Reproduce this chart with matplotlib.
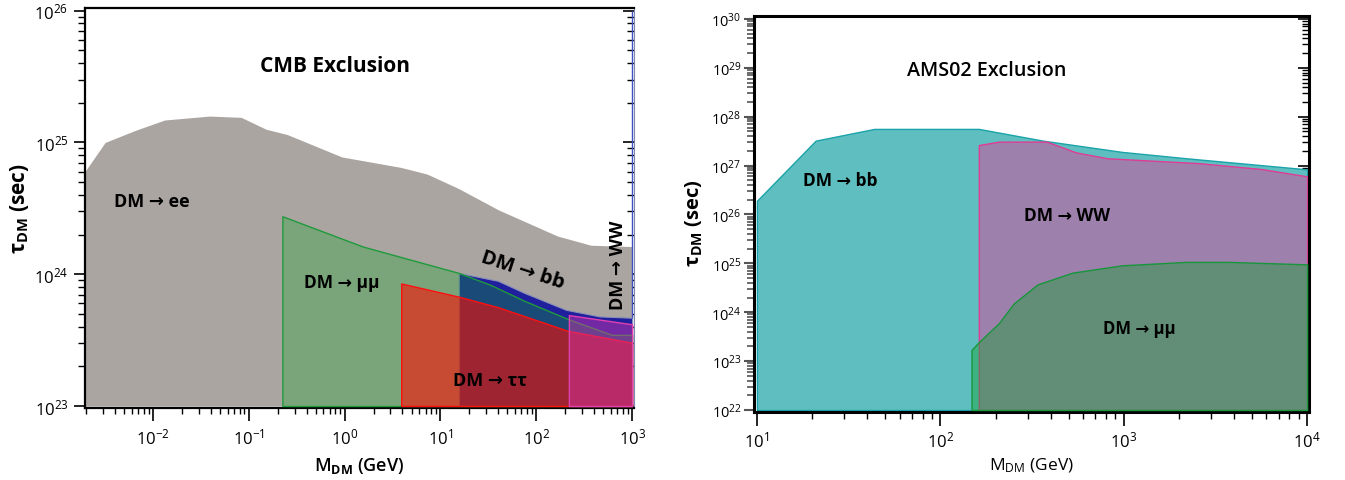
import matplotlib
matplotlib.use("Agg")
import matplotlib.pyplot as plt
import matplotlib.ticker as mticker
import numpy as np

plt.rcParams['font.family'] = ['Open Sans', 'DejaVu Sans']
plt.rcParams['mathtext.fontset'] = 'custom'
plt.rcParams['mathtext.rm'] = 'Open Sans'
plt.rcParams['mathtext.bf'] = 'Open Sans:bold'
plt.rcParams['mathtext.it'] = 'Open Sans:italic'

# ---- CMB panel data (log10 of mass in GeV, log10 of lifetime in s) ----
ee_logm = [-2.71, -2.50, -2.19, -1.88, -1.41, -1.08, -0.82, -0.60, -0.03,
           0.59, 0.86, 1.19, 1.60, 2.22, 2.57, 3.00]
ee_logt = [24.78, 25.00, 25.09, 25.17, 25.20, 25.19, 25.10, 25.06, 24.89,
           24.81, 24.76, 24.65, 24.49, 24.29, 24.22, 24.21]

mumu_logm = [-0.65, 0.19, 1.19, 1.52, 1.87, 2.33, 2.79, 3.00]
mumu_logt = [24.44, 24.21, 24.01, 23.92, 23.80, 23.66, 23.54, 23.54]

bb_logm = [1.19, 1.60, 1.87, 2.31, 2.66, 3.00]
bb_logt = [24.01, 23.95, 23.86, 23.73, 23.68, 23.67]

tautau_logm = [0.59, 1.19, 1.60, 2.33, 3.00]
tautau_logt = [23.93, 23.83, 23.75, 23.57, 23.48]

ww_logm = [2.34, 3.00]
ww_logt = [23.69, 23.62]

# ---- AMS02 panel data ----
ams_bb_logm = [1.00, 1.32, 1.64, 2.21, 2.56, 2.99, 3.34, 3.98, 4.00]
ams_bb_logt = [26.28, 27.51, 27.75, 27.75, 27.51, 27.28, 27.15, 26.93, 26.92]

ams_ww_logm = [2.21, 2.32, 2.58, 2.74, 2.91, 3.41, 3.75, 4.00]
ams_ww_logt = [27.42, 27.49, 27.49, 27.27, 27.15, 27.05, 26.93, 26.78]

ams_mumu_logm = [2.17, 2.21, 2.32, 2.40, 2.53, 2.72, 2.99, 3.34, 3.57, 4.00]
ams_mumu_logt = [23.23, 23.39, 23.78, 24.18, 24.57, 24.81, 24.96, 25.03, 25.03, 24.98]


def pw(a):
    return 10.0 ** np.asarray(a)


fig = plt.figure(figsize=(13.45, 4.81), dpi=100)
ax1 = fig.add_axes([0.0632, 0.1497, 0.4082, 0.8316])
ax2 = fig.add_axes([0.5606, 0.1414, 0.4126, 0.8233])

# ---------------- left: CMB ----------------
floor1 = 1e23
ax1.fill_between(pw(ee_logm), floor1, pw(ee_logt), color='#aba5a2', lw=0, zorder=1)
ax1.fill_between(pw(bb_logm), floor1, pw(bb_logt), facecolor='#20209f',
                 edgecolor='#8a90b8', lw=0.8, zorder=2)
ax1.vlines(pw(bb_logm[-1]), pw(bb_logt[-1]), 1e26, color='#4050c0', lw=1.0, zorder=2)
ax1.fill_between(pw(mumu_logm), floor1, pw(mumu_logt), facecolor=(0.05, 0.66, 0.14, 0.31),
                 edgecolor='#1f9a3c', lw=1.0, zorder=3)
ax1.fill_between(pw(tautau_logm), floor1, pw(tautau_logt), facecolor=(1.0, 0.04, 0.0, 0.58),
                 edgecolor='#ff1010', lw=1.0, zorder=4)
ax1.fill_between(pw(ww_logm), floor1, pw(ww_logt), facecolor=(0.85, 0.2, 0.67, 0.45),
                 edgecolor='#e040b0', lw=1.0, zorder=5)

ax1.set_xscale('log')
ax1.set_yscale('log')
ax1.set_xlim(10 ** -2.71, 10 ** 3.02)
ax1.set_ylim(10 ** 22.985, 10 ** 26.02)

txt = dict(transform=ax1.transAxes, ha='center', va='center', fontweight='bold', zorder=10)
ax1.text(0.455, 0.855, 'CMB Exclusion', fontsize=15, **txt)
ax1.text(0.122, 0.518, 'DM → ee', fontsize=13, **txt)
ax1.text(0.468, 0.315, 'DM → μμ', fontsize=12.5, **txt)
ax1.text(0.738, 0.07, 'DM → ττ', fontsize=13, **txt)
ax1.text(0.798, 0.345, 'DM → bb', fontsize=14.5, rotation=-18, **txt)
ax1.text(0.971, 0.36, 'DM → WW', fontsize=13, rotation=90, **txt)

ax1.text(-0.12, 0.5, r'$\mathbf{\tau_{DM}}$ (sec)', transform=ax1.transAxes, rotation=90,
         ha='center', va='center', fontsize=15, fontweight='bold')
ax1.text(0.5, -0.1425, r'M$_{\mathbf{DM}}$ (GeV)', transform=ax1.transAxes,
         ha='center', va='center', fontsize=13, fontweight='semibold')

for s in ['left', 'top', 'bottom']:
    ax1.spines[s].set_linewidth(1.6)
ax1.spines['right'].set_linewidth(0.8)
ax1.spines['right'].set_color('#8088b0')

ax1.tick_params(axis='x', which='major', direction='out', length=9, width=1.2,
                labelsize=12, pad=5, top=False)
ax1.tick_params(axis='x', which='minor', direction='out', length=4.5, width=1.0, top=False)
ax1.tick_params(axis='y', which='major', direction='out', length=8, width=1.2,
                labelsize=12, pad=4)
ax1.tick_params(axis='y', which='minor', direction='out', length=5, width=1.0)

# ---------------- right: AMS02 ----------------
floor2 = 1e22
ax2.fill_between(pw(ams_bb_logm), floor2, pw(ams_bb_logt), facecolor='#5fbfc0',
                 edgecolor='#1aa3aa', lw=1.0, zorder=1)
ax2.fill_between(pw(ams_ww_logm), floor2, pw(ams_ww_logt), facecolor='#9d80ac',
                 edgecolor='#e03c96', lw=1.0, zorder=2)
ax2.fill_between(pw(ams_mumu_logm), floor2, pw(ams_mumu_logt), facecolor=(0.04, 0.64, 0.15, 0.40),
                 edgecolor='#18963c', lw=1.0, zorder=3)

ax2.set_xscale('log')
ax2.set_yscale('log')
ax2.set_xlim(10 ** 0.984, 10 ** 4.01)
ax2.set_ylim(10 ** 21.96, 10 ** 30.06)
ax2.yaxis.set_major_locator(mticker.LogLocator(base=10, numticks=20))
ax2.yaxis.set_minor_locator(mticker.LogLocator(base=10, subs=np.arange(2, 10), numticks=20))
ax2.yaxis.set_minor_formatter(mticker.NullFormatter())

txt2 = dict(transform=ax2.transAxes, ha='center', va='center', zorder=10)
ax2.text(0.42, 0.864, 'AMS02 Exclusion', fontsize=14.2, fontweight='semibold', **txt2)
ax2.text(0.155, 0.586, 'DM → bb', fontsize=12.5, fontweight='bold', **txt2)
ax2.text(0.564, 0.4975, 'DM → WW', fontsize=12.5, fontweight='bold', **txt2)
ax2.text(0.694, 0.212, 'DM → μμ', fontsize=12, fontweight='bold', **txt2)

ax2.text(-0.108, 0.48, r'$\mathbf{\tau_{DM}}$ (sec)', transform=ax2.transAxes, rotation=90,
         ha='center', va='center', fontsize=14.5, fontweight='bold')
ax2.text(0.5, -0.134, r'M$_{\mathrm{DM}}$ (GeV)', transform=ax2.transAxes,
         ha='center', va='center', fontsize=12.5)

for s in ax2.spines.values():
    s.set_linewidth(2.2)

ax2.tick_params(axis='x', which='major', direction='out', length=10, width=1.2,
                labelsize=12, pad=3)
ax2.tick_params(axis='x', which='minor', direction='out', length=5, width=1.0)
ax2.tick_params(axis='y', which='major', direction='out', length=7, width=1.5,
                labelsize=10.5, pad=2, color='#555555')
ax2.tick_params(axis='y', which='minor', direction='out', length=5, width=1.2, color='#555555')

# inward ticks on the right edge of both panels
for ax in (ax1, ax2):
    sec = ax.secondary_yaxis('right')
    sec.tick_params(axis='y', which='major', direction='in', length=8, width=1.2, labelright=False)
    sec.tick_params(axis='y', which='minor', direction='in', length=5, width=1.0)
    sec.spines['right'].set_visible(False)
    if ax is ax2:
        sec.yaxis.set_major_locator(mticker.LogLocator(base=10, numticks=20))
        sec.yaxis.set_minor_locator(mticker.LogLocator(base=10, subs=np.arange(2, 10), numticks=20))
    sec.yaxis.set_minor_formatter(mticker.NullFormatter())

fig.savefig('out.png', dpi=100)
